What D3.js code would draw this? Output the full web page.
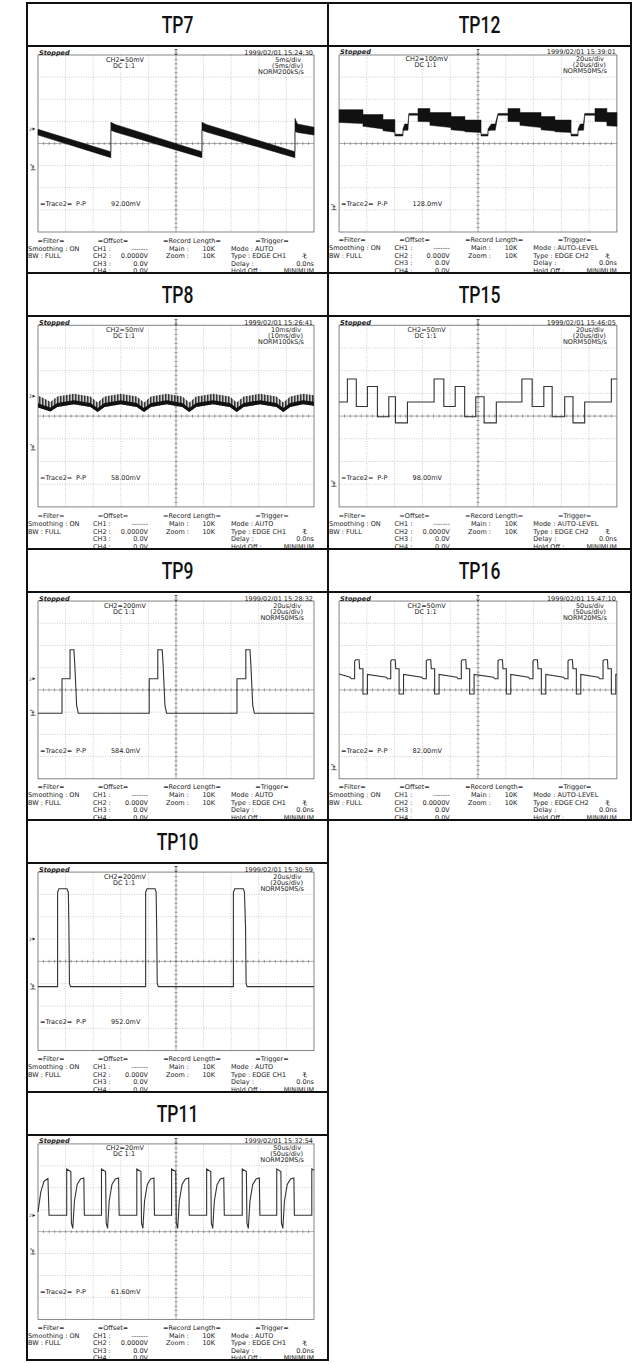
<!DOCTYPE html>
<html>
<head>
<meta charset="utf-8">
<script src="https://cdn.jsdelivr.net/npm/d3@7"></script>
<style>
  body { margin: 0; background: #fff; }
  .scope text { font-family: "DejaVu Sans", sans-serif; font-size: 6.5px; fill: #1a1a1a; }
  .title { font-family: Roboto, sans-serif; font-weight: 500; font-size: 23px; fill: #111; }
</style>
</head>
<body>
<svg id="chart" width="637" height="1364"></svg>
<script>
// panel texts, in reading order (left/right per row)
const titles = ['TP7', 'TP12', 'TP8', 'TP15', 'TP9', 'TP16', 'TP10', 'TP11']
const volts = ['CH2=50mV', 'CH2=100mV', 'CH2=50mV', 'CH2=50mV', 'CH2=200mV', 'CH2=50mV', 'CH2=200mV', 'CH2=20mV']
const timebase = ['5ms/div', '20us/div', '10ms/div', '20us/div', '20us/div', '50us/div', '20us/div', '50us/div']
const rates = ['NORM200kS/s', 'NORM50MS/s', 'NORM100kS/s', 'NORM50MS/s', 'NORM50MS/s', 'NORM20MS/s', 'NORM50MS/s', 'NORM20MS/s']
const stamps = ['15:24:30', '15:39:01', '15:26:41', '15:46:05', '15:28:32', '15:47:10', '15:30:59', '15:32:54']
const ppValues = ['92.00mV', '128.0mV', '58.00mV', '98.00mV', '584.0mV', '82.00mV', '952.0mV', '61.60mV']
const ch2Offsets = ['0.0000V', '0.000V', '0.0000V', '0.0000V', '0.000V', '0.0000V', '0.000V', '0.0000V']
const trigModes = ['AUTO', 'AUTO-LEVEL', 'AUTO', 'AUTO-LEVEL', 'AUTO', 'AUTO-LEVEL', 'AUTO', 'AUTO']
const trigSources = ['CH1', 'CH2', 'CH1', 'CH2', 'CH1', 'CH2', 'CH1', 'CH1']
// channel / ground marker levels, in divisions
const chMarks = [0.65, null, 0.87, null, 0.5, null, 1.0, 0.74]
const gndMarks = [-1.1, -2.9, -1.4, -3.0, -1.05, -3.5, -1.15, -0.93]

// traces, in divisions: x 0..10, y -4..4
// bands: [x, top, bottom]
const tp7Band = [
  [0, 0.64, 0.38], [2.64, -0.37, -0.64], [2.64, 0.96, 0.60], [2.80, 0.86, 0.52],
  [5.94, -0.37, -0.64], [5.94, 0.96, 0.60], [6.10, 0.86, 0.52],
  [9.31, -0.37, -0.64], [9.31, 1.14, 0.55], [9.40, 0.88, 0.50], [10, 0.74, 0.38]
]
const tp8Band = [
  [0.00, 0.90, 0.38], [0.20, 0.80, 0.30], [0.45, 0.62, 0.20], [0.70, 0.86, 0.40],
  [1.30, 0.98, 0.52], [1.90, 0.86, 0.40], [2.16, 0.60, 0.18], [2.41, 0.86, 0.40],
  [3.00, 0.98, 0.52], [3.58, 0.86, 0.40], [3.84, 0.60, 0.18], [4.09, 0.86, 0.40],
  [4.66, 0.98, 0.52], [5.23, 0.86, 0.40], [5.48, 0.60, 0.18], [5.73, 0.86, 0.40],
  [6.34, 0.98, 0.52], [6.95, 0.86, 0.40], [7.20, 0.60, 0.18], [7.45, 0.86, 0.40],
  [8.05, 0.98, 0.52], [8.64, 0.86, 0.40], [8.89, 0.60, 0.18], [9.14, 0.86, 0.40],
  [9.60, 0.98, 0.52], [10.0, 0.92, 0.45]
]
const tp12Band = [
  [0.00, 1.53, 0.95], [0.86, 1.53, 0.90], [0.86, 1.31, 0.78], [1.58, 1.31, 0.66],
  [1.58, 1.08, 0.58], [2.01, 1.08, 0.51], [2.01, 0.42, 0.34], [2.30, 0.42, 0.34],
  [2.30, 0.66, 0.58], [2.36, 0.88, 0.60], [2.48, 0.88, 0.60], [2.51, 1.36, 1.28],
  [2.84, 1.36, 1.28], [2.84, 1.58, 1.00], [3.27, 1.58, 0.98], [3.27, 1.40, 0.82],
  [4.03, 1.40, 0.72], [4.03, 1.22, 0.62], [4.53, 1.22, 0.56], [4.53, 1.06, 0.53],
  [5.11, 1.06, 0.50], [5.11, 0.42, 0.34], [5.36, 0.42, 0.34], [5.36, 0.66, 0.58],
  [5.48, 0.88, 0.60], [5.62, 0.88, 0.60], [5.72, 1.36, 1.28], [6.08, 1.36, 1.28],
  [6.08, 1.58, 1.00], [6.51, 1.58, 0.98], [6.51, 1.40, 0.82], [7.27, 1.40, 0.72],
  [7.27, 1.22, 0.62], [7.77, 1.22, 0.56], [7.77, 1.06, 0.53], [8.35, 1.06, 0.50],
  [8.35, 0.42, 0.34], [8.60, 0.42, 0.34], [8.60, 0.66, 0.58], [8.68, 0.88, 0.60],
  [8.80, 0.88, 0.60], [8.84, 1.36, 1.28], [9.21, 1.36, 1.28], [9.21, 1.58, 1.00],
  [9.64, 1.58, 0.98], [9.64, 1.40, 0.80], [10, 1.40, 0.78]
]
// step trace: transition times and levels
const tp15Times = [0, 0.30, 0.62, 1.02, 1.38, 1.79, 2.03, 2.46, 3.42, 3.77, 4.18, 4.52, 4.92, 5.22, 5.66, 6.58, 6.95, 7.37, 7.67, 8.12, 8.42, 8.84, 9.80, 10]
const tp15Levels = [0.62, 1.63, 0.42, 1.30, -0.03, 0.85, -0.30, 0.62, 1.63, 0.42, 1.30, -0.03, 0.85, -0.30, 0.62, 1.63, 0.42, 1.30, -0.03, 0.85, -0.30, 0.62, 1.63, 1.63]
// line traces: [x, y]
const tp9Trace = [
  [0, -1.05], [0.87, -1.05], [0.87, 0.50], [1.16, 0.50], [1.16, 1.81], [1.30, 1.81], [1.33, 1.2], [1.40, -0.7], [1.46, -1.05],
  [4.03, -1.05], [4.03, 0.50], [4.34, 0.50], [4.34, 1.81], [4.50, 1.81], [4.53, 1.2], [4.60, -0.7], [4.66, -1.05],
  [7.21, -1.05], [7.21, 0.50], [7.53, 0.50], [7.53, 1.81], [7.68, 1.81], [7.71, 1.2], [7.78, -0.7], [7.84, -1.05],
  [10, -1.05]
]
const tp16Trace = [
  [0, 0.72], [0.40, 0.57], [0.44, 0.50], [0.56, 0.50], [0.56, 1.30], [0.60, 1.36], [0.72, 1.36], [0.74, 0.95], [0.86, 0.95], [0.86, -0.18], [1.02, -0.18], [1.02, 0.70],
  [1.70, 0.57], [1.74, 0.50], [1.86, 0.50], [1.86, 1.30], [1.90, 1.36], [2.02, 1.36], [2.04, 0.95], [2.16, 0.95], [2.16, -0.18], [2.32, -0.18], [2.32, 0.70],
  [2.98, 0.57], [3.02, 0.50], [3.14, 0.50], [3.14, 1.30], [3.18, 1.36], [3.30, 1.36], [3.32, 0.95], [3.44, 0.95], [3.44, -0.18], [3.60, -0.18], [3.60, 0.70],
  [4.24, 0.57], [4.28, 0.50], [4.40, 0.50], [4.40, 1.30], [4.44, 1.36], [4.56, 1.36], [4.58, 0.95], [4.70, 0.95], [4.70, -0.18], [4.86, -0.18], [4.86, 0.70],
  [5.56, 0.57], [5.60, 0.50], [5.72, 0.50], [5.72, 1.30], [5.76, 1.36], [5.88, 1.36], [5.90, 0.95], [6.02, 0.95], [6.02, -0.18], [6.18, -0.18], [6.18, 0.70],
  [6.82, 0.57], [6.86, 0.50], [6.98, 0.50], [6.98, 1.30], [7.02, 1.36], [7.14, 1.36], [7.16, 0.95], [7.28, 0.95], [7.28, -0.18], [7.44, -0.18], [7.44, 0.70],
  [8.08, 0.57], [8.12, 0.50], [8.24, 0.50], [8.24, 1.30], [8.28, 1.36], [8.40, 1.36], [8.42, 0.95], [8.54, 0.95], [8.54, -0.18], [8.70, -0.18], [8.70, 0.70],
  [9.34, 0.57], [9.38, 0.50], [9.50, 0.50], [9.50, 1.30], [9.54, 1.36], [9.66, 1.36], [9.68, 0.95], [9.80, 0.95], [9.80, -0.18], [9.96, -0.18], [9.96, 0.70], [10, 0.69]
]
const tp10Trace = [
  [0, -1.13], [0.71, -1.13], [0.71, 3.10], [0.76, 3.25], [1.05, 3.25], [1.10, 3.10], [1.12, 1.5], [1.14, -1.0], [1.18, -1.13],
  [3.90, -1.13], [3.90, 3.10], [3.95, 3.25], [4.24, 3.25], [4.28, 3.10], [4.30, 1.5], [4.32, -1.0], [4.36, -1.13],
  [7.08, -1.13], [7.08, 3.10], [7.13, 3.25], [7.44, 3.25], [7.48, 3.10], [7.52, 1.5], [7.54, -1.0], [7.58, -1.13],
  [10, -1.13]
]
const tp11Trace = [
  [0.00, 0.90], [0.10, 1.80], [0.22, 2.30], [0.36, 2.42], [0.40, 0.75],
  [1.04, 0.75], [1.04, 2.86], [1.19, 2.74], [1.21, 0.40], [1.26, 0.15], [1.32, 1.40], [1.42, 2.15], [1.54, 2.40], [1.66, 2.45], [1.68, 0.75],
  [2.30, 0.75], [2.30, 2.86], [2.45, 2.74], [2.47, 0.40], [2.52, 0.15], [2.58, 1.40], [2.68, 2.15], [2.80, 2.40], [2.92, 2.45], [2.94, 0.75],
  [3.58, 0.75], [3.58, 2.86], [3.73, 2.74], [3.75, 0.40], [3.80, 0.15], [3.86, 1.40], [3.96, 2.15], [4.08, 2.40], [4.20, 2.45], [4.22, 0.75],
  [4.84, 0.75], [4.84, 2.86], [4.99, 2.74], [5.01, 0.40], [5.06, 0.15], [5.12, 1.40], [5.22, 2.15], [5.34, 2.40], [5.46, 2.45], [5.48, 0.75],
  [6.11, 0.75], [6.11, 2.86], [6.26, 2.74], [6.28, 0.40], [6.33, 0.15], [6.39, 1.40], [6.49, 2.15], [6.61, 2.40], [6.73, 2.45], [6.75, 0.75],
  [7.40, 0.75], [7.40, 2.86], [7.55, 2.74], [7.57, 0.40], [7.62, 0.15], [7.68, 1.40], [7.78, 2.15], [7.90, 2.40], [8.02, 2.45], [8.04, 0.75],
  [8.65, 0.75], [8.65, 2.86], [8.80, 2.74], [8.82, 0.40], [8.87, 0.15], [8.93, 1.40], [9.03, 2.15], [9.15, 2.40], [9.27, 2.45], [9.29, 0.75],
  [9.92, 0.75], [9.92, 2.86], [10, 2.80]
]

const traces = [
  {kind: 'band', data: tp7Band},
  {kind: 'band', data: tp12Band},
  {kind: 'hairy', data: tp8Band},
  {kind: 'step', data: tp15Times.map((t, i) => [t, tp15Levels[i]])},
  {kind: 'line', data: tp9Trace},
  {kind: 'line', data: tp16Trace},
  {kind: 'line', data: tp10Trace},
  {kind: 'line', data: tp11Trace}
]

// table layout
const colX = [27, 328, 631]
const rowTop = [3, 273, 549, 820, 1092]
const rowBottom = [273, 549, 820, 1092, 1360]
const cellRow = [0, 0, 1, 1, 2, 2, 3, 4]
const cellCol = [0, 1, 0, 1, 0, 1, 0, 0]
const titleH = 43
// reference size of one scope screen
const refW = 301
const refH = 227

const svg = d3.select('#chart')
const defs = svg.append('defs')
defs.append('pattern')
  .attr('id', 'hatch')
  .attr('patternUnits', 'userSpaceOnUse')
  .attr('width', 1.5).attr('height', 4)
  .append('rect').attr('width', 0.8).attr('height', 4).attr('fill', '#111')

const x = d3.scaleLinear().domain([0, 10]).range([11, 287])
const y = d3.scaleLinear().domain([-4, 4]).range([186, 9])

const drawScope = (g, i) => {
  // graticule
  const grid = g.append('g')
  grid.selectAll('.vg')
    .data(d3.range(1, 10).filter(k => k !== 5))
    .enter().append('line')
    .attr('x1', d => x(d)).attr('x2', d => x(d))
    .attr('y1', y(4)).attr('y2', y(-4))
    .attr('stroke', '#999').attr('stroke-width', 0.6).attr('stroke-dasharray', '0.8,1.6')
  grid.selectAll('.hg')
    .data(d3.range(-3, 4).filter(k => k !== 0))
    .enter().append('line')
    .attr('x1', x(0)).attr('x2', x(10))
    .attr('y1', d => y(d)).attr('y2', d => y(d))
    .attr('stroke', '#999').attr('stroke-width', 0.6).attr('stroke-dasharray', '0.8,1.6')
  grid.append('line')
    .attr('x1', x(5)).attr('x2', x(5)).attr('y1', y(4)).attr('y2', y(-4))
    .attr('stroke', '#777').attr('stroke-width', 0.6)
  grid.append('line')
    .attr('x1', x(0)).attr('x2', x(10)).attr('y1', y(0)).attr('y2', y(0))
    .attr('stroke', '#777').attr('stroke-width', 0.6)
  grid.selectAll('.xt')
    .data(d3.range(1, 50))
    .enter().append('line')
    .attr('x1', d => x(d / 5)).attr('x2', d => x(d / 5))
    .attr('y1', y(0) - 1.5).attr('y2', y(0) + 1.5)
    .attr('stroke', '#666').attr('stroke-width', 0.6)
  grid.selectAll('.yt')
    .data(d3.range(-19, 20))
    .enter().append('line')
    .attr('y1', d => y(d / 5)).attr('y2', d => y(d / 5))
    .attr('x1', x(5) - 1.5).attr('x2', x(5) + 1.5)
    .attr('stroke', '#666').attr('stroke-width', 0.6)
  grid.append('rect')
    .attr('x', x(0)).attr('y', y(4))
    .attr('width', x(10) - x(0)).attr('height', y(-4) - y(4))
    .attr('fill', 'none').attr('stroke', '#666').attr('stroke-width', 0.8)

  // trace
  const tr = traces[i]
  const area = d3.area().x(d => x(d[0])).y0(d => y(d[2])).y1(d => y(d[1]))
  if (tr.kind === 'band') {
    g.append('path').attr('d', area(tr.data)).attr('fill', '#111').attr('stroke', '#111').attr('stroke-width', 0.5)
  } else if (tr.kind === 'hairy') {
    g.append('path').attr('d', area(tr.data)).attr('fill', 'url(#hatch)')
    g.append('path')
      .attr('d', d3.area().x(d => x(d[0])).y0(d => y(d[2])).y1(d => y(d[2]) - 4)(tr.data))
      .attr('fill', '#111')
  } else {
    const line = d3.line().x(d => x(d[0])).y(d => y(d[1]))
    if (tr.kind === 'step') line.curve(d3.curveStepAfter)
    g.append('path').attr('d', line(tr.data))
      .attr('fill', 'none').attr('stroke', '#333').attr('stroke-width', 1.1)
  }

  // markers on the left edge
  if (chMarks[i] !== null) {
    g.append('text').attr('x', 2).attr('y', y(chMarks[i]) + 2).style('font-size', '4.5px').text('2')
    g.append('path').attr('d', `M5.5,${y(chMarks[i]) - 1.5}L8.5,${y(chMarks[i])}L5.5,${y(chMarks[i]) + 1.5}Z`).attr('fill', '#222')
  }
  const gy = y(gndMarks[i])
  g.append('path')
    .attr('d', `M6,${gy - 3}V${gy + 2}M3.5,${gy + 2}H8.5M4.5,${gy - 1}H7.5M3,${gy - 3}H5`)
    .attr('stroke', '#222').attr('stroke-width', 0.7).attr('fill', 'none')

  // header texts
  g.append('text').attr('x', 12).attr('y', 8.5)
    .style('font-style', 'italic').style('font-weight', 'bold').text('Stopped')
  g.append('path')
    .attr('d', `M${x(5)},3.5V9M${x(5) - 1.5},7.5L${x(5)},9L${x(5) + 1.5},7.5M${x(5) - 1.5},3.5H${x(5) + 1.5}`)
    .attr('stroke', '#222').attr('stroke-width', 0.7).attr('fill', 'none')
  g.append('text').attr('x', 286).attr('y', 8.5).attr('text-anchor', 'end').text('1999/02/01  ' + stamps[i])
  g.append('text').attr('x', 98).attr('y', 15.5).attr('text-anchor', 'middle').text(volts[i])
  g.append('text').attr('x', 97).attr('y', 21.5).attr('text-anchor', 'middle').text('DC  1:1')
  g.append('text').attr('x', 274).attr('y', 15.5).attr('text-anchor', 'end').text(timebase[i])
  g.append('text').attr('x', 276).attr('y', 21.5).attr('text-anchor', 'end').text('(' + timebase[i] + ')')
  g.append('text').attr('x', 277).attr('y', 27.5).attr('text-anchor', 'end').text(rates[i])

  // measurement
  g.append('text').attr('x', 13).attr('y', 160).text('=Trace2=')
  g.append('text').attr('x', 49).attr('y', 160).text('P-P')
  g.append('text').attr('x', 84).attr('y', 160).text(ppValues[i])

  // footer
  const rows = [196.5, 204.5, 212, 219.5, 227]
  const put = (tx, row, s, anchor) => g.append('text')
    .attr('x', tx).attr('y', rows[row]).attr('text-anchor', anchor || 'start').text(s)
  put(24, 0, '=Filter=', 'middle')
  put(1, 1, 'Smoothing : ON')
  put(1, 2, 'BW : FULL')
  put(86, 0, '=Offset=', 'middle')
  put(66, 1, 'CH1 :'); put(121, 1, '-------', 'end')
  put(66, 2, 'CH2 :'); put(121, 2, ch2Offsets[i], 'end')
  put(66, 3, 'CH3 :'); put(121, 3, '0.0V', 'end')
  put(66, 4, 'CH4 :'); put(121, 4, '0.0V', 'end')
  put(165, 0, '=Record Length=', 'middle')
  put(142, 1, 'Main :'); put(188, 1, '10K', 'end')
  put(139, 2, 'Zoom :'); put(188, 2, '10K', 'end')
  put(245, 0, '=Trigger=', 'middle')
  put(204, 1, 'Mode : ' + trigModes[i])
  put(204, 2, 'Type : EDGE ' + trigSources[i])
  g.append('path')
    .attr('d', `M276,${rows[2] - 4}H279M277.5,${rows[2] - 4}V${rows[2]}H280M275.5,${rows[2] - 1.5}L279.5,${rows[2] - 2.8}`)
    .attr('stroke', '#222').attr('stroke-width', 0.6).attr('fill', 'none')
  put(204, 3, 'Delay :'); put(287, 3, '0.0ns', 'end')
  put(204, 4, 'Hold  Off  :'); put(287, 4, 'MINIMUM', 'end')
}

titles.forEach((t, i) => {
  const x0 = colX[cellCol[i]], x1 = colX[cellCol[i] + 1]
  const y0 = rowTop[cellRow[i]], y1 = rowBottom[cellRow[i]]
  const cell = svg.append('g')

  const scope = cell.append('g')
    .attr('class', 'scope')
    .attr('transform', `translate(${x0},${y0 + titleH}) scale(${(x1 - x0) / refW},${(y1 - y0 - titleH) / refH})`)
  drawScope(scope, i)

  cell.append('rect')
    .attr('x', x0).attr('y', y0).attr('width', x1 - x0).attr('height', y1 - y0)
    .attr('fill', 'none').attr('stroke', '#111').attr('stroke-width', 2)
  cell.append('line')
    .attr('x1', x0).attr('x2', x1).attr('y1', y0 + titleH).attr('y2', y0 + titleH)
    .attr('stroke', '#111').attr('stroke-width', 2)
  cell.append('text')
    .attr('class', 'title')
    .attr('text-anchor', 'middle')
    .attr('transform', `translate(${(x0 + x1) / 2},${y0 + 29.5}) scale(0.76,1)`)
    .text(t)
})
</script>
</body>
</html>
